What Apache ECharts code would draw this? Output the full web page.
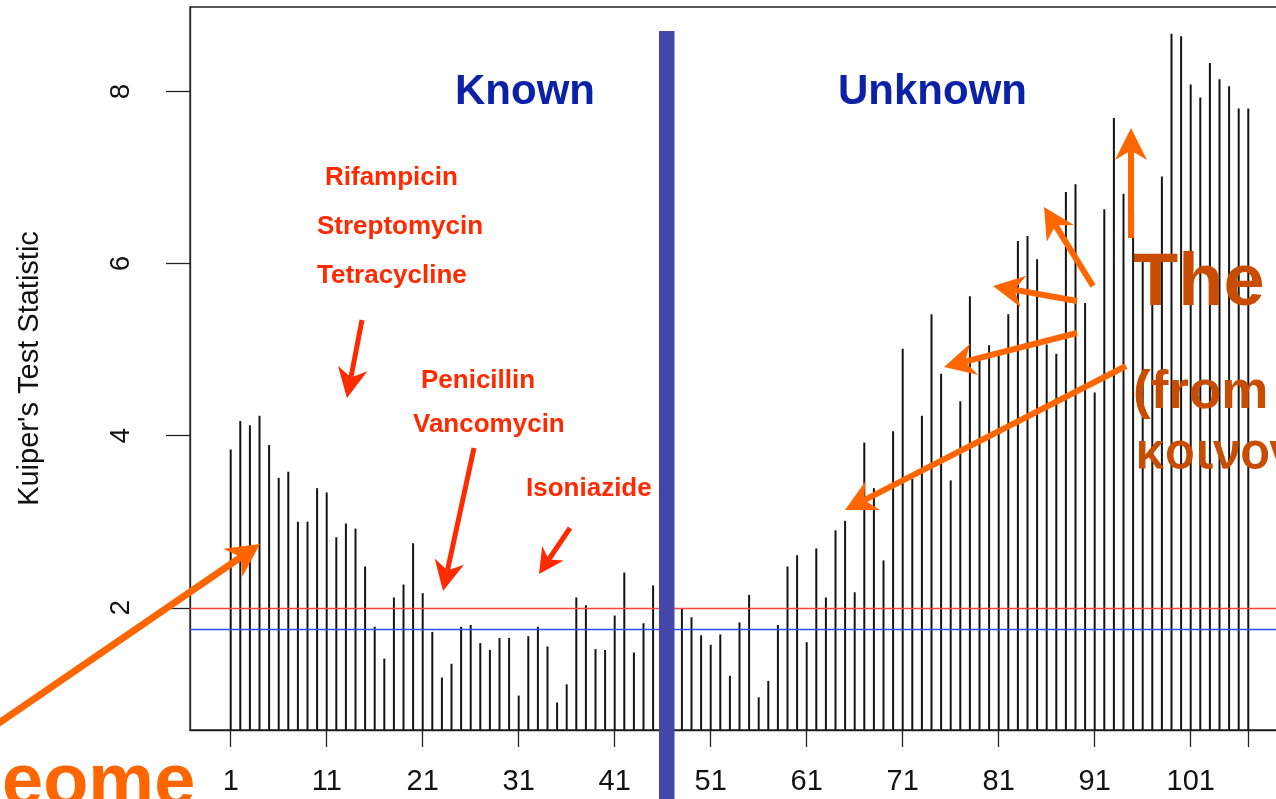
<!DOCTYPE html>
<html>
<head>
<meta charset="utf-8">
<script src="https://cdn.jsdelivr.net/npm/echarts@6/dist/echarts.min.js"></script>
<style>
  html, body { margin: 0; padding: 0; background: #fff; }
  #chart { width: 1276px; height: 799px; }
</style>
</head>
<body>
<div id="chart"></div>
<script>
// Kuiper's test statistic per drug/compound (1..107)
const kuiper = [
  3.84, 4.17, 4.12, 4.23, 3.89, 3.51, 3.58, 3.00, 3.00, 3.39,
  3.34, 2.82, 2.98, 2.92, 2.48, 1.78, 1.41, 2.12, 2.27, 2.75,
  2.17, 1.72, 1.19, 1.35, 1.78, 1.80, 1.59, 1.51, 1.65, 1.65,
  0.98, 1.67, 1.78, 1.55, 0.90, 1.11, 2.12, 2.03, 1.52, 1.51,
  1.91, 2.41, 1.48, 1.82, 2.26, 2.00, 1.90, 1.99, 1.89, 1.68,
  1.57, 1.69, 1.21, 1.83, 2.15, 0.96, 1.15, 1.80, 2.48, 2.61,
  1.60, 2.69, 2.12, 2.90, 3.01, 2.18, 3.92, 3.39, 2.55, 4.05,
  5.01, 3.50, 4.23, 5.41, 4.72, 3.48, 4.40, 5.62, 4.87, 5.05,
  4.93, 5.41, 6.26, 6.32, 6.05, 5.06, 4.95, 6.83, 6.92, 5.54,
  4.50, 6.63, 7.69, 6.81, 6.57, 6.11, 5.80, 7.01, 8.67, 8.64,
  8.08, 7.93, 8.33, 8.14, 8.06, 7.80, 7.80
];
const index = kuiper.map((v, i) => i + 1);

const xTicks = [1, 11, 21, 31, 41, 51, 61, 71, 81, 91, 101, 107];
const xLabels = [1, 11, 21, 31, 41, 51, 61, 71, 81, 91, 101];
const yTicks = [2, 4, 6, 8];

const redCut = 2.0;
const blueCut = 1.75;
const splitAt = 46.5; // known | unknown

const drugsTop = ["Rifampicin", "Streptomycin", "Tetracycline"];
const drugsMid = ["Penicillin", "Vancomycin"];
const drugsLow = ["Isoniazide"];

const FONT = '"Liberation Sans", Arial, Helvetica, sans-serif';
const RED = "#ff2a00";
const ORANGE = "#ff6600";
const BROWN = "#c84c02";

let chart = echarts.init(document.getElementById("chart"));

chart.setOption({
  animation: false,
  grid: {
    left: 190,
    top: 7,
    width: 1099,
    height: 723,
    outerBoundsMode: "none",
    containLabel: false,
    show: true,
    borderColor: "#222",
    borderWidth: 1.3,
  },
  xAxis: {
    type: "value",
    min: -3.24,
    max: 111.24,
    splitLine: { show: false },
    axisLine: { show: true, onZero: false, lineStyle: { color: "#222", width: 1.3 } },
    axisTick: {
      show: true,
      length: 17,
      customValues: xTicks,
      lineStyle: { color: "#222", width: 1.3 },
    },
    axisLabel: {
      customValues: xLabels,
      margin: 37,
      color: "#111",
      fontSize: 29,
      fontFamily: FONT,
    },
  },
  yAxis: {
    type: "value",
    min: 0.58,
    max: 8.98,
    name: "Kuiper's Test Statistic",
    nameLocation: "middle",
    nameGap: 146,
    nameTextStyle: { color: "#111", fontSize: 29, fontFamily: FONT },
    splitLine: { show: false },
    axisLine: { show: true, onZero: false, lineStyle: { color: "#222", width: 1.3 } },
    axisTick: {
      show: true,
      length: 24,
      customValues: yTicks,
      lineStyle: { color: "#222", width: 1.3 },
    },
    axisLabel: {
      customValues: yTicks,
      rotate: 90,
      margin: 55,
      color: "#111",
      fontSize: 28,
      fontFamily: FONT,
    },
  },
  series: [
    {
      type: "bar",
      data: index.map((x, i) => [x, kuiper[i]]),
      barWidth: 2,
      clip: true,
      itemStyle: { color: "#151515" },
      silent: true,
      markLine: {
        silent: true,
        symbol: "none",
        label: { show: false },
        data: [
          { yAxis: redCut, lineStyle: { color: "#ff4040", width: 1.3, type: "solid" } },
          { yAxis: blueCut, lineStyle: { color: "#2f4cff", width: 1.3, type: "solid" } },
        ],
      },
    },
  ],
});

// arrow = shaft + notched head
function arrow(x1, y1, x2, y2, color, w, headLen, headHalf) {
  const dx = x2 - x1, dy = y2 - y1;
  const L = Math.hypot(dx, dy);
  const ux = dx / L, uy = dy / L, px = -uy, py = ux;
  const bx = x2 - ux * headLen, by = y2 - uy * headLen;
  const nx = x2 - ux * headLen * 0.7, ny = y2 - uy * headLen * 0.7;
  return [
    {
      type: "line", z: 100, silent: true,
      shape: { x1: x1, y1: y1, x2: nx, y2: ny },
      style: { stroke: color, lineWidth: w },
    },
    {
      type: "polygon", z: 100, silent: true,
      shape: {
        points: [
          [x2, y2],
          [bx + px * headHalf, by + py * headHalf],
          [nx, ny],
          [bx - px * headHalf, by - py * headHalf],
        ],
      },
      style: { fill: color },
    },
  ];
}

function label(text, x, y, color, font, align) {
  return {
    type: "text", z: 101, silent: true,
    x: x, y: y,
    style: {
      text: text,
      fill: color,
      font: font,
      textAlign: align || "left",
      textVerticalAlign: "middle",
    },
  };
}

const splitX = chart.convertToPixel({ xAxisIndex: 0 }, splitAt);

let graphics = [
  {
    type: "rect", z: 99, silent: true,
    shape: { x: splitX - 8.5, y: 31, width: 15.5, height: 800 },
    style: { fill: "#4447a8" },
  },
  label("Known", 455, 92, "#0b22a8", "bold 42px " + FONT),
  label("Unknown", 838, 92, "#0b22a8", "bold 42px " + FONT),
];

const boldRed = "bold 26px " + FONT;
graphics.push(label(drugsTop[0], 325, 178, RED, boldRed));
graphics.push(label(drugsTop[1], 317, 227, RED, boldRed));
graphics.push(label(drugsTop[2], 317, 276, RED, boldRed));
graphics.push(label(drugsMid[0], 421, 381, RED, boldRed));
graphics.push(label(drugsMid[1], 413, 425, RED, boldRed));
graphics.push(label(drugsLow[0], 526, 489, RED, boldRed));

graphics = graphics.concat(
  arrow(362, 320, 347, 398, RED, 5, 30, 15),
  arrow(474, 448, 443, 591, RED, 5, 30, 15),
  arrow(570, 528, 539, 574, RED, 5, 25, 13),
  arrow(-10, 729, 260, 544, ORANGE, 7, 33, 17),
  arrow(1126, 366, 845, 510, ORANGE, 6, 31, 16),
  arrow(1077, 333, 944, 367, ORANGE, 6, 31, 16),
  arrow(1077, 301, 993, 286, ORANGE, 6, 31, 16),
  arrow(1093, 286, 1044, 207, ORANGE, 6, 31, 16),
  arrow(1131, 238, 1131, 128, ORANGE, 6, 32, 16)
);

graphics.push(label("The", 1133, 285, BROWN, "bold 74px " + FONT));
graphics.push(label("(from", 1133, 393, BROWN, "bold 53px " + FONT));
graphics.push(label("κοινογονιδίωμα", 1135, 455, BROWN, '600 50px "Noto Sans", "DejaVu Sans", sans-serif'));
graphics.push(label("eome", 2, 785, ORANGE, "bold 74px " + FONT));

chart.setOption({ graphic: graphics });
</script>
</body>
</html>
